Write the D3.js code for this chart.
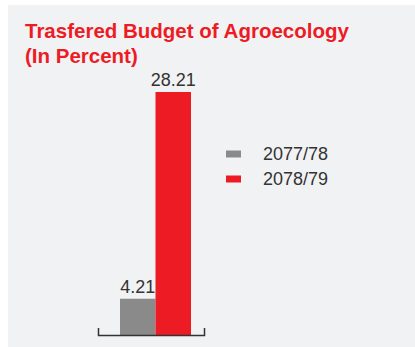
<!DOCTYPE html>
<html>
<head>
<meta charset="utf-8">
<script src="https://cdn.jsdelivr.net/npm/d3@7"></script>
<style>
  html, body { margin: 0; padding: 0; background: #ffffff; }
  svg { display: block; }
  text { font-family: "Liberation Sans", Arial, Helvetica, sans-serif; }
</style>
</head>
<body>
<svg id="chart" width="415" height="347"></svg>
<script>
// Fiscal years and transferred share of the agroecology budget (%)
const years = ["2077/78", "2078/79"];
const values = [4.21, 28.21];
const colors = ["#8a8a8a", "#ed1c24"];
const titleLines = ["Trasfered Budget of Agroecology", "(In Percent)"];

const svg = d3.select("#chart");

// panel background
svg.append("rect")
  .attr("x", 8).attr("y", 5)
  .attr("width", 407).attr("height", 342)
  .attr("fill", "#f1f2f4");

// title
svg.append("g").selectAll("text")
  .data(titleLines)
  .join("text")
  .attr("x", 25)
  .attr("y", (d, i) => 38 + i * 25)
  .attr("fill", "#ed1c24")
  .attr("font-size", 20.5)
  .attr("font-weight", "bold")
  .text(d => d);

// scales
const x = d3.scaleBand()
  .domain(years)
  .range([120, 191])
  .paddingInner(0)
  .paddingOuter(0);

const y = d3.scaleLinear()
  .domain([0, 28.21])
  .range([335, 92]);

// bars
svg.append("g").selectAll("rect")
  .data(years)
  .join("rect")
  .attr("x", d => x(d))
  .attr("y", (d, i) => y(values[i]))
  .attr("width", x.bandwidth())
  .attr("height", (d, i) => y(0) - y(values[i]))
  .attr("fill", (d, i) => colors[i]);

// value labels
svg.append("g").selectAll("text")
  .data(years)
  .join("text")
  .attr("x", d => x(d) + x.bandwidth() / 2)
  .attr("y", (d, i) => y(values[i]) - 6)
  .attr("text-anchor", "middle")
  .attr("fill", "#333333")
  .attr("font-size", 18)
  .text((d, i) => values[i].toFixed(2));

// baseline axis with upturned end ticks
const axisScale = d3.scaleLinear().domain([0, 1]).range([98, 204]);
const axis = svg.append("g")
  .attr("transform", "translate(0,335)")
  .call(d3.axisBottom(axisScale).tickValues([]).tickSizeOuter(-7));
axis.select(".domain")
  .attr("stroke", "#333333")
  .attr("stroke-width", 1.5);

// legend
const legend = svg.append("g").selectAll("g")
  .data(years)
  .join("g")
  .attr("transform", (d, i) => `translate(226,${154 + i * 25})`);
legend.append("rect")
  .attr("x", 0).attr("y", -3.5)
  .attr("width", 15).attr("height", 7)
  .attr("fill", (d, i) => colors[i]);
legend.append("text")
  .attr("x", 37)
  .attr("y", 0)
  .attr("dy", "0.35em")
  .attr("fill", "#333333")
  .attr("font-size", 18)
  .text(d => d);
</script>
</body>
</html>
